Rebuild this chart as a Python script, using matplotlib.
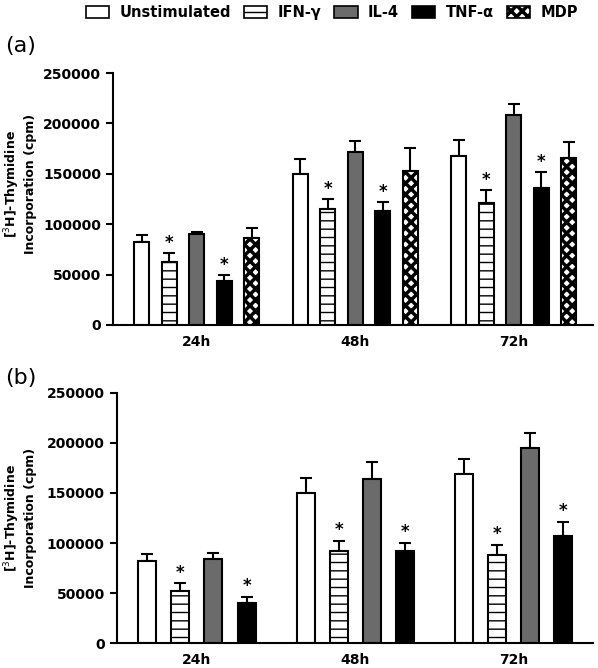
import numpy as np
import matplotlib
matplotlib.use('Agg')
import matplotlib.pyplot as plt
from matplotlib.patches import Patch

plt.rcParams['font.family'] = ['DejaVu Sans']
plt.rcParams['hatch.linewidth'] = 1.0

# Datos
tiempos = ['24h', '48h', '72h']
grupos = ['Unstimulated', 'IFN-γ', 'IL-4', 'TNF-α', 'MDP']

# Panel (a)
a_medias = {
    'Unstimulated': [82000, 150000, 168000],
    'IFN-γ': [62000, 115000, 121000],
    'IL-4': [90000, 171500, 208000],
    'TNF-α': [43500, 113000, 135500],
    'MDP': [86000, 152500, 165500],
}
a_err = {
    'Unstimulated': [7000, 15000, 15500],
    'IFN-γ': [9000, 10000, 12500],
    'IL-4': [2500, 11500, 11500],
    'TNF-α': [5700, 9000, 16000],
    'MDP': [10000, 23500, 16000],
}

# Panel (b)
b_medias = {
    'Unstimulated': [82000, 150000, 168500],
    'IFN-γ': [52500, 92500, 88500],
    'IL-4': [84500, 163500, 194500],
    'TNF-α': [40500, 92500, 107000],
}
b_err = {
    'Unstimulated': [7000, 15000, 15500],
    'IFN-γ': [7500, 9700, 10000],
    'IL-4': [5500, 17000, 15500],
    'TNF-α': [5800, 8000, 14500],
}

# grupos con diferencia significativa (*)
significativos = ['IFN-γ', 'TNF-α']

estilos = {
    'Unstimulated': dict(color='white', hatch=None),
    'IFN-γ': dict(color='white', hatch='--'),
    'IL-4': dict(color='#6b6b6b', hatch=None),
    'TNF-α': dict(color='black', hatch=None),
    'MDP': dict(color='white', hatch='xxx'),
}


def dibujar(ax, medias, errores, paso, ancho, xlim):
    x = np.arange(len(tiempos))
    n = len(medias)
    for i, nombre in enumerate(medias):
        pos = x + (i - (n - 1) / 2) * paso
        est = estilos[nombre]
        barras = ax.bar(pos, medias[nombre], ancho, color=est['color'],
                        edgecolor='black', linewidth=1.5, hatch=est['hatch'], zorder=2)
        if nombre == 'MDP':
            for b in barras:
                if hasattr(b, 'set_hatch_linewidth'):
                    b.set_hatch_linewidth(2.5)
        ax.errorbar(pos, medias[nombre], yerr=[np.zeros(len(x)), errores[nombre]],
                    fmt='none', ecolor='black', elinewidth=1.5, capsize=4, capthick=1.5, zorder=1)
        if nombre in significativos:
            for p, m, e in zip(pos, medias[nombre], errores[nombre]):
                ax.annotate('*', (p, m + e), xytext=(0, 1), textcoords='offset points',
                            ha='center', va='bottom', fontsize=12, fontweight='bold')
    ax.set_xlim(*xlim)
    ax.set_ylim(0, 250000)
    ax.set_yticks(np.arange(0, 250001, 50000))
    ax.set_xticks(x)
    ax.set_xticklabels(tiempos, fontsize=10, fontweight='bold')
    ax.tick_params(axis='x', length=0, pad=7)
    ax.tick_params(axis='y', length=5, width=1.5, labelsize=10)
    for lab in ax.get_yticklabels():
        lab.set_fontweight('bold')
    ax.spines['top'].set_visible(False)
    ax.spines['right'].set_visible(False)
    ax.spines['left'].set_linewidth(1.5)
    ax.spines['bottom'].set_linewidth(1.5)
    ax.set_ylabel('[$^3$H]-Thymidine\nIncorporation (cpm)', fontsize=9, fontweight='bold')


fig = plt.figure(figsize=(5.98, 6.68), dpi=100)
axA = fig.add_axes([0.189, 0.5135, 0.8027, 0.3772])
axB = fig.add_axes([0.195, 0.0374, 0.7965, 0.3743])

dibujar(axA, a_medias, a_err, 0.1728, 0.0946, (-0.528, 2.5))
dibujar(axB, b_medias, b_err, 0.209, 0.114, (-0.507, 2.5))
axA.yaxis.set_label_coords(-0.158, 0.56)
axB.yaxis.set_label_coords(-0.167, 0.5)

fig.text(0.008, 0.931, '(a)', fontsize=16, va='center', ha='left')
fig.text(0.008, 0.434, '(b)', fontsize=16, va='center', ha='left')

# Leyenda
manijas = []
for nombre in grupos:
    est = estilos[nombre]
    p = Patch(facecolor=est['color'], edgecolor='black', hatch=est['hatch'], linewidth=1.2, label=nombre)
    manijas.append(p)
ley = fig.legend(handles=manijas, loc='center', bbox_to_anchor=(0.555, 0.981), ncol=5,
                 frameon=False, prop={'weight': 'bold', 'size': 10.5},
                 handlelength=1.6, handleheight=0.9, handletextpad=0.7, columnspacing=0.9,
                 borderaxespad=0)
for h in ley.legend_handles:
    if h.get_hatch() == 'xxx' and hasattr(h, 'set_hatch_linewidth'):
        h.set_hatch_linewidth(2.5)

fig.savefig('out.png', dpi=100)
